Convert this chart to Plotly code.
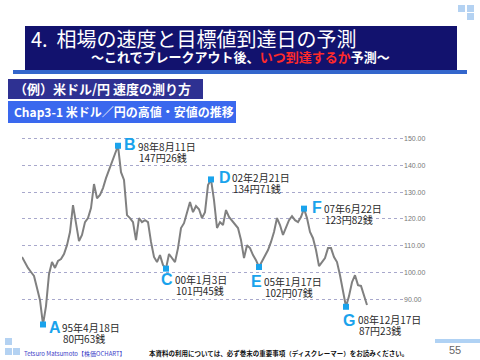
import plotly.graph_objects as go

# ---------------- data ----------------
# USD/JPY price path (equal time steps)
usdjpy = [105.8, 103.5, 101.7, 100.2, 98.7, 94.2, 89.7, 80.63, 87.5, 99.4,
          103.9, 101.7, 104.3, 105.0, 106.9, 110.2, 115.1, 125.1, 118.8, 111.7,
          114.0, 118.8, 120.3, 124.0, 133.0, 127.7, 128.9, 131.5, 135.2, 138.2,
          141.2, 143.8, 147.26, 137.4, 134.5, 121.4, 120.3, 118.8, 112.1, 120.3,
          118.8, 119.5, 118.8, 111.4, 105.8, 103.9, 106.5, 102.8, 101.45, 106.9,
          105.4, 103.9, 109.1, 116.6, 118.4, 122.5, 126.3, 122.5, 124.8, 123.6,
          120.3, 122.5, 132.6, 134.71, 127.0, 116.6, 118.8, 117.7, 123.3, 120.7,
          119.2, 118.1, 116.6, 112.1, 105.4, 110.2, 109.1, 106.5, 104.6, 102.07,
          104.3, 106.5, 108.4, 111.4, 115.1, 120.3, 117.7, 114.0, 116.6, 119.5,
          121.0, 119.5, 118.8, 120.7, 123.82, 120.3, 115.1, 112.8, 108.4, 102.4,
          103.9, 105.4, 109.1, 109.1, 105.8, 103.9, 99.0, 92.7, 87.23, 91.2,
          96.4, 99.0, 95.3, 95.0, 91.2, 87.9]
period = list(range(len(usdjpy)))

labels = ["A", "B", "C", "D", "E", "F", "G"]
point_idx = [7, 32, 48, 63, 79, 94, 108]
dates = ["95年4月18日", "98年8月11日", "00年1月3日", "02年2月21日",
         "05年1月17日", "07年6月22日", "08年12月17日"]
prices = ["80円63銭", "147円26銭", "101円45銭", "134円71銭",
          "102円07銭", "123円82銭", "87円23銭"]
ytick_vals = [90, 100, 110, 120, 130, 140, 150]

# ---------------- layout helpers ----------------
W, H = 480, 360
L, R, T, B = 22, 77, 125, 7
PW, PH = W - L - R, H - T - B


def fx(p):
    return (p - L) / PW


def fy(p):
    return (H - B - p) / PH


JP = "Noto Sans CJK JP"
CYAN = "#1aa3ec"

fig = go.Figure()
fig.add_trace(go.Scatter(x=period, y=usdjpy, mode="lines",
                         line=dict(color="#808080", width=2),
                         hoverinfo="skip", showlegend=False))
fig.add_trace(go.Scatter(x=point_idx, y=[usdjpy[i] for i in point_idx],
                         mode="markers",
                         marker=dict(symbol="square", size=6, color=CYAN),
                         showlegend=False, cliponaxis=False, hoverinfo="skip"))

shapes = []
# title bar
shapes.append(dict(type="rect", xref="paper", yref="paper", x0=fx(25), x1=fx(457),
                   y0=fy(70), y1=fy(26), fillcolor="#12126e", line_width=0))
shapes.append(dict(type="rect", xref="paper", yref="paper", x0=fx(13), x1=fx(467),
                   y0=fy(74), y1=fy(70), fillcolor="#3366cc", line_width=0))
# section boxes
shapes.append(dict(type="rect", xref="paper", yref="paper", x0=fx(8), x1=fx(203),
                   y0=fy(99), y1=fy(79), fillcolor="#2e3192", line_width=0))
shapes.append(dict(type="rect", xref="paper", yref="paper", x0=fx(8), x1=fx(236),
                   y0=fy(123), y1=fy(101), fillcolor="#3a68ee", line_width=0))
# decorative squares
for (x0, y0) in [(458, 5), (467, 5), (467, 13), (5, 338), (5, 348), (13, 348)]:
    shapes.append(dict(type="rect", xref="paper", yref="paper", x0=fx(x0), x1=fx(x0 + 7),
                       y0=fy(y0 + 7), y1=fy(y0), fillcolor="#b4d2f2", line_width=0))
shapes.append(dict(type="rect", xref="paper", yref="paper", x0=fx(435), x1=fx(480),
                   y0=fy(343), y1=fy(339), fillcolor="#b0d2f4", line_width=0))

ann = []


def text(x, y, s, size, color, xanchor="left", bold=False, family=JP):
    ann.append(dict(xref="paper", yref="paper", x=fx(x), y=fy(y), text=s,
                    showarrow=False, xanchor=xanchor, yanchor="middle",
                    font=dict(size=size, color=color, family=family,
                              weight="bold" if bold else "normal")))


text(29, 38.5, "4.  相場の速度と目標値到達日の予測", 20, "white")
text(240, 56.5, "～これでブレークアウト後、<span style='color:#ff2a2a'>いつ到達するか</span>予測～",
     13, "white", xanchor="center", bold=True)
text(12, 89, "（例）米ドル/円 速度の測り方", 13, "white", bold=True)
text(12, 112, "Chap3-1 米ドル／円の高値・安値の推移", 12, "white", bold=True)

# point labels: letter centre, text left, line1 y, line2 y
letter_pos = [(55, 327), (130, 144), (167, 279), (225, 177), (256, 281), (317, 207), (349, 320)]
text_pos = [(60, 327, 338), (136, 146, 157), (173, 279, 290), (230, 177, 188),
            (262, 281, 292), (322, 208, 219), (356, 319, 330)]
for i, lab in enumerate(labels):
    lx, ly = letter_pos[i]
    text(lx, ly, lab, 16, CYAN, xanchor="center", bold=True, family="Liberation Sans")
    tx, y1, y2 = text_pos[i]
    text(tx, y1, dates[i], 10, "#2a2a2a")
    text(tx + 1, y2, prices[i], 10, "#2a2a2a")

text(22, 353, "Tetsuro Matsumoto【株価OCHART】", 6, "#4040c8")
text(147, 353, "本資料の利用については、必ず巻末の重要事項（ディスクレーマー）をお読みください。",
     6.5, "#111111", bold=True)
text(455, 350, "55", 11, "#666666", xanchor="center", family="Liberation Sans")

fig.update_layout(
    width=W, height=H, margin=dict(l=L, r=R, t=T, b=B),
    paper_bgcolor="white", plot_bgcolor="white",
    shapes=shapes, annotations=ann, hovermode=False,
    xaxis=dict(range=[0, PW / 3], visible=False, fixedrange=True),
    yaxis=dict(range=[70, 155], side="right", tickvals=ytick_vals, tickformat=".2f",
               showgrid=True, gridcolor="#a8a8cc", griddash="dot", gridwidth=1,
               zeroline=False, showline=False, ticks="", fixedrange=True,
               tickfont=dict(size=7, color="#777777", family="Liberation Sans")),
)

fig.write_html("out.html", config={"displayModeBar": False},
               post_script="document.body.style.margin='0';document.body.style.overflow='hidden';")
